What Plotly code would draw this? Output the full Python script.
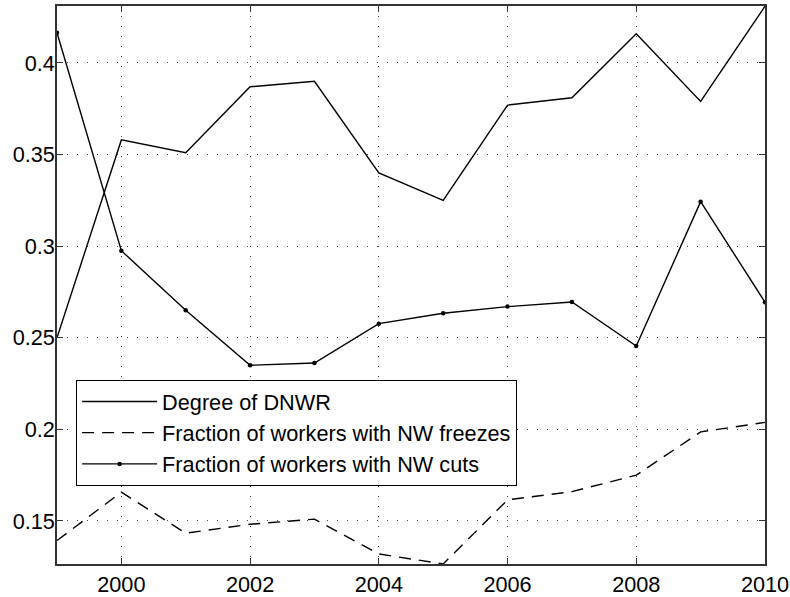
import plotly.graph_objects as go

years = list(range(1999, 2011))
dnwr = [0.250, 0.358, 0.351, 0.387, 0.390, 0.340, 0.325, 0.377, 0.381, 0.416, 0.379, 0.431]
freezes = [0.1393, 0.1657, 0.1433, 0.1482, 0.1510, 0.1320, 0.1265, 0.1615, 0.1660, 0.1750, 0.1986, 0.2038]
cuts = [0.4165, 0.2975, 0.2650, 0.2350, 0.2362, 0.2577, 0.2634, 0.2670, 0.2695, 0.2455, 0.3243, 0.2694]

x_ticks = [2000, 2002, 2004, 2006, 2008, 2010]
y_ticks = [0.15, 0.2, 0.25, 0.3, 0.35, 0.4]
y_tick_text = ["0.15", "0.2", "0.25", "0.3", "0.35", "0.4"]

FONT = "Liberation Sans, Arial, Helvetica, sans-serif"
FS = 21.7

fig = go.Figure()
fig.add_trace(go.Scatter(x=years, y=dnwr, mode="lines", name="Degree of DNWR",
                         line=dict(color="black", width=1.4)))
fig.add_trace(go.Scatter(x=years, y=freezes, mode="lines", name="Fraction of workers with NW freezes",
                         line=dict(color="black", width=1.4, dash="12px,8px")))
fig.add_trace(go.Scatter(x=years, y=cuts, mode="lines+markers", name="Fraction of workers with NW cuts",
                         line=dict(color="black", width=1.4),
                         marker=dict(color="black", size=4.5)))

axis_common = dict(
    showline=True, linecolor="#333333", linewidth=1.5, mirror="allticks",
    ticks="inside", ticklen=6, tickcolor="#333333", tickwidth=1,
    showgrid=True, gridcolor="#444444", griddash="1px,9px", gridwidth=1,
    zeroline=False, automargin=False,
    tickfont=dict(family=FONT, size=FS, color="black"),
)

fig.update_xaxes(range=[1999, 2010], tickvals=x_ticks, ticklabelstandoff=0, **axis_common)
fig.update_yaxes(range=[0.1265, 0.4311], tickvals=y_ticks, ticktext=y_tick_text,
                 ticklabelstandoff=-4, **axis_common)

fig.update_layout(
    width=790, height=597,
    margin=dict(l=57, r=25, t=6, b=33),
    paper_bgcolor="white", plot_bgcolor="white",
    font=dict(family=FONT, size=FS, color="black"),
    showlegend=True,
    legend=dict(x=0.027, y=0.33, xanchor="left", yanchor="top",
                bgcolor="white", bordercolor="black", borderwidth=1,
                font=dict(family=FONT, size=FS, color="black"),
                tracegroupgap=0, itemwidth=75),
)

fig.write_html("out.html", config={"displayModeBar": False},
               post_script="document.body.style.margin='0';document.body.style.padding='0';")
